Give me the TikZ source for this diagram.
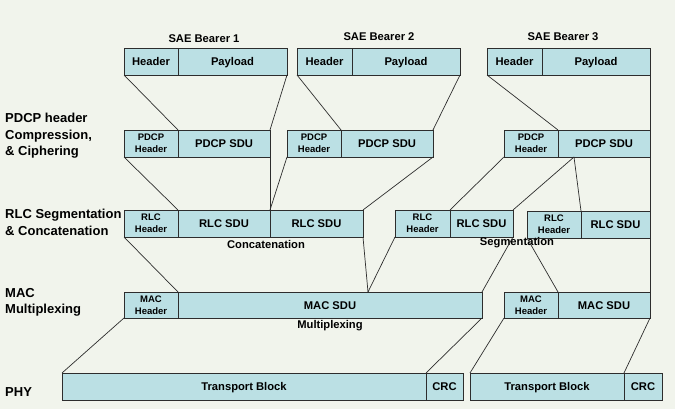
\documentclass[tikz,border=0pt]{standalone}
\usepackage{fontspec}
\setmainfont{Liberation Sans}
\usetikzlibrary{positioning}
\definecolor{bgcol}{RGB}{241,244,236}
\definecolor{cellcol}{RGB}{187,224,228}
\definecolor{linecol}{RGB}{45,45,45}

\begin{document}
\begin{tikzpicture}[x=1pt, y=-1pt,
	cellbase/.style={draw=linecol, fill=cellcol, line width=0.8pt, inner sep=0pt, outer sep=0pt,
		minimum height=27pt, align=center},
	cell/.style={cellbase, text height=8pt, text depth=0pt, font=\bfseries\fontsize{11.2}{13}\selectfont},
	hcell/.style={cellbase, font=\bfseries\fontsize{9.5}{12}\selectfont},
	link/.style={draw=linecol, line width=0.7pt},
	layer/.style={anchor=west, align=left, inner sep=0pt, font=\bfseries\fontsize{13}{16.5}\selectfont},
	caption/.style={inner sep=0pt, font=\bfseries\fontsize{11.2}{13}\selectfont}]
			\fill[bgcol] (0,0) rectangle (675,409);
			\useasboundingbox (0,0) rectangle (675,409);
			% layer names
			\node [layer] (lpdcp) at (5,136) {PDCP header\\Compression,\\\& Ciphering};
			\node [layer] (lrlc) at (5,222.5) {RLC Segmentation\\\& Concatenation};
			\node [layer] (lmac) at (5,302.5) {MAC\\Multiplexing};
			\node [layer] (lphy) at (5,392) {PHY};
			% SAE bearers
			\node [caption] (t1) at (204,39) {SAE Bearer 1};
			\node [caption] (t2) at (379,37) {SAE Bearer 2};
			\node [caption] (t3) at (563,37) {SAE Bearer 3};
			\node [cell, anchor=north west, minimum width=54pt] (b1h) at (124,48) {Header};
			\node [cell, right=0pt of b1h, minimum width=109pt] (b1p) {Payload};
			\node [cell, anchor=north west, minimum width=55pt] (b2h) at (297,48) {Header};
			\node [cell, right=0pt of b2h, minimum width=108pt] (b2p) {Payload};
			\node [cell, anchor=north west, minimum width=55pt] (b3h) at (487,48) {Header};
			\node [cell, right=0pt of b3h, minimum width=108pt] (b3p) {Payload};
			% PDCP
			\node [hcell, anchor=north west, minimum width=54pt] (p1h) at (124,130) {PDCP\\Header};
			\node [cell, right=0pt of p1h, minimum width=92pt] (p1s) {PDCP SDU};
			\node [hcell, anchor=north west, minimum width=54pt] (p2h) at (287,130) {PDCP\\Header};
			\node [cell, right=0pt of p2h, minimum width=92pt] (p2s) {PDCP SDU};
			\node [hcell, anchor=north west, minimum width=54pt] (p3h) at (504,130) {PDCP\\Header};
			\node [cell, right=0pt of p3h, minimum width=92pt] (p3s) {PDCP SDU};
			% RLC
			\node [hcell, anchor=north west, minimum width=54pt] (r1h) at (124,210) {RLC\\Header};
			\node [cell, right=0pt of r1h, minimum width=92pt] (r1a) {RLC SDU};
			\node [cell, right=0pt of r1a, minimum width=93pt] (r1b) {RLC SDU};
			\node [hcell, anchor=north west, minimum width=55pt] (r2h) at (395,210) {RLC\\Header};
			\node [cell, right=0pt of r2h, minimum width=63pt] (r2s) {RLC SDU};
			\node [hcell, anchor=north west, minimum width=54pt] (r3h) at (527,211) {RLC\\Header};
			\node [cell, right=0pt of r3h, minimum width=69pt] (r3s) {RLC SDU};
			\node [caption] (concat) at (266,244) {Concatenation};
			\node [caption] (segm) at (517,243) {Segmentation};
			% MAC
			\node [hcell, anchor=north west, minimum width=54pt, minimum height=26pt] (m1h) at (124,292) {MAC\\Header};
			\node [cell, right=0pt of m1h, minimum width=304pt, minimum height=26pt] (m1s) {MAC SDU};
			\node [hcell, anchor=north west, minimum width=54pt, minimum height=26pt] (m2h) at (504,292) {MAC\\Header};
			\node [cell, right=0pt of m2h, minimum width=92pt, minimum height=26pt] (m2s) {MAC SDU};
			\node [caption] (mux) at (330,326) {Multiplexing};
			% PHY
			\node [cell, anchor=north west, minimum width=364pt] (tb1) at (62,373) {Transport Block};
			\node [cell, right=0pt of tb1, minimum width=37pt] (crc1) {CRC};
			\node [cell, anchor=north west, minimum width=154pt] (tb2) at (470,373) {Transport Block};
			\node [cell, right=0pt of tb2, minimum width=38pt] (crc2) {CRC};
			\coordinate (split) at ([xshift=-30pt]p3s.south);
			\coordinate (join) at ([xshift=38pt]m1s.north);
			% bearer -> PDCP
			\draw [link] (b1h.south west) -- (p1h.north east);
			\draw [link] (b1p.south east) -- (p1s.north east);
			\draw [link] (b2h.south west) -- (p2h.north east);
			\draw [link] (b2p.south east) -- (p2s.north east);
			\draw [link] (b3h.south west) -- (p3h.north east);
			\draw [link] (b3p.south east) -- (p3s.north east);
			% PDCP -> RLC
			\draw [link] (p1h.south west) -- (r1h.north east);
			\draw [link] (p1s.south east) -- (r1a.north east);
			\draw [link] (p2h.south west) -- (r1a.north east);
			\draw [link] (p2s.south east) -- (r1b.north east);
			\draw [link] (p3h.south west) -- (r2h.north east);
			\draw [link] (split) -- (r2s.north east);
			\draw [link] (split) -- (r3h.north east);
			\draw [link] (p3s.south east) -- (r3s.north east);
			% RLC -> MAC
			\draw [link] (r1h.south west) -- (m1h.north east);
			\draw [link] (r1b.south east) -- (join);
			\draw [link] (r2h.south west) -- (join);
			\draw [link] (r2s.south east) -- (m1s.north east);
			\draw [link] (r3h.south west) -- (m2h.north east);
			\draw [link] (r3s.south east) -- (m2s.north east);
			% MAC -> PHY
			\draw [link] (m1h.south west) -- (tb1.north west);
			\draw [link] (m1s.south east) -- (tb1.north east);
			\draw [link] (m2h.south west) -- (tb2.north west);
			\draw [link] (m2s.south east) -- (tb2.north east);
			\end{tikzpicture}
\end{document}
